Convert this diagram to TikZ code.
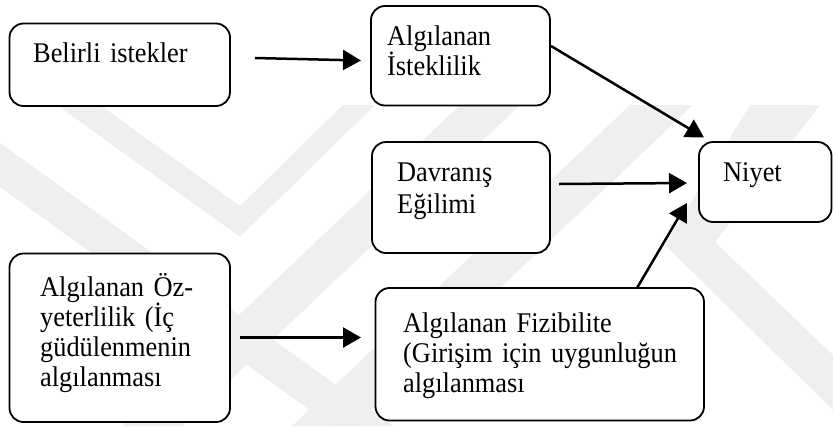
\documentclass[tikz,border=0pt]{standalone}
\usepackage{fontspec}
\setmainfont{Liberation Serif}[FakeStretch=0.925]
\usetikzlibrary{arrows.meta}
\tikzset{
  wmark/.style={fill={rgb, 255:red, 239; green, 239; blue, 239}, draw=none},
  rbox/.style={draw, line width=1.8pt, rounded corners=14pt, fill=white, inner sep=0pt},
  lbl/.style={anchor=base west, inner sep=0pt, align=left, text width=#1,
    font=\fontsize{28.5}{30}\selectfont},
  lbl/.default=300pt,
  link/.style={line width=2.5pt, -{Triangle[length=18pt,width=20pt]}},
}

\begin{document}
\begin{tikzpicture}[x=1pt,y=1pt,yscale=-1,xscale=1]
\useasboundingbox (0,0) rectangle (833,426);

%Shape: Polygon (watermark)
\fill [wmark] (57,105) -- (240,237) -- (375,105) -- (343,105) -- (240,206) -- (100,105) -- cycle ;
\fill [wmark] (0,143) -- (393,426) -- (332,426) -- (0,187) -- cycle ;
\fill [wmark] (460,105) -- (520,105) -- (182,426) -- (122,426) -- cycle ;
\fill [wmark] (630,105) -- (693,105) -- (355,426) -- (292,426) -- cycle ;
\fill [wmark] (750,105) -- (820,105) -- (715,242) -- (833,355) -- (833,410) -- (665,245) -- cycle ;

%Shape: Rounded Rect
\node [rbox, minimum width=220.5pt, minimum height=82.5pt] (belirli) at (119.75,64.75) {};
\node [rbox, minimum width=179pt, minimum height=99.5pt] (istek) at (460.5,55.75) {};
\node [rbox, minimum width=178pt, minimum height=111pt] (egilim) at (461,197.5) {};
\node [rbox, minimum width=132.5pt, minimum height=80pt] (niyet) at (765.25,182) {};
\node [rbox, minimum width=220.5pt, minimum height=168.5pt] (ozyet) at (119.75,337.75) {};
\node [rbox, minimum width=328.5pt, minimum height=132.5pt] (fizib) at (539.75,354.25) {};

% Text Node
\node [lbl=190pt] (belirli-t) at (33,62.5) {Belirli istekler};
\node [lbl=150pt] (istek-t) at (387,45) {Algılanan\\İsteklilik};
\node [lbl=150pt] (egilim-t) at (397,181) {Davranış\\[2pt]Eğilimi};
\node [lbl=100pt] (niyet-t) at (723,181.5) {Niyet};
\node [lbl=185pt] (ozyet-t) at (40,296) {Algılanan Öz-\\yeterlilik (İç\\güdülenmenin\\algılanması};
\node [lbl=295pt] (fizib-t) at (403,332) {Algılanan Fizibilite\\(Girişim için uygunluğun\\algılanması};

%Straight Lines
\coordinate (belirli-out) at (255,58);
\coordinate (istek-in) at (361,60.5);
\coordinate (istek-out) at (551,46);
\coordinate (niyet-in1) at (704,137.5);
\coordinate (egilim-out) at (559,184);
\coordinate (niyet-in2) at (687,183);
\coordinate (fizib-out) at (637,288);
\coordinate (niyet-in3) at (687,203);
\coordinate (ozyet-out) at (240,337.5);
\coordinate (fizib-in) at (361,337.5);
\draw [link] (belirli-out) -- (istek-in) ;
\draw [link] (istek-out) -- (niyet-in1) ;
\draw [link] (egilim-out) -- (niyet-in2) ;
\draw [link] (fizib-out) -- (niyet-in3) ;
\draw [link] (ozyet-out) -- (fizib-in) ;

\end{tikzpicture}
\end{document}
